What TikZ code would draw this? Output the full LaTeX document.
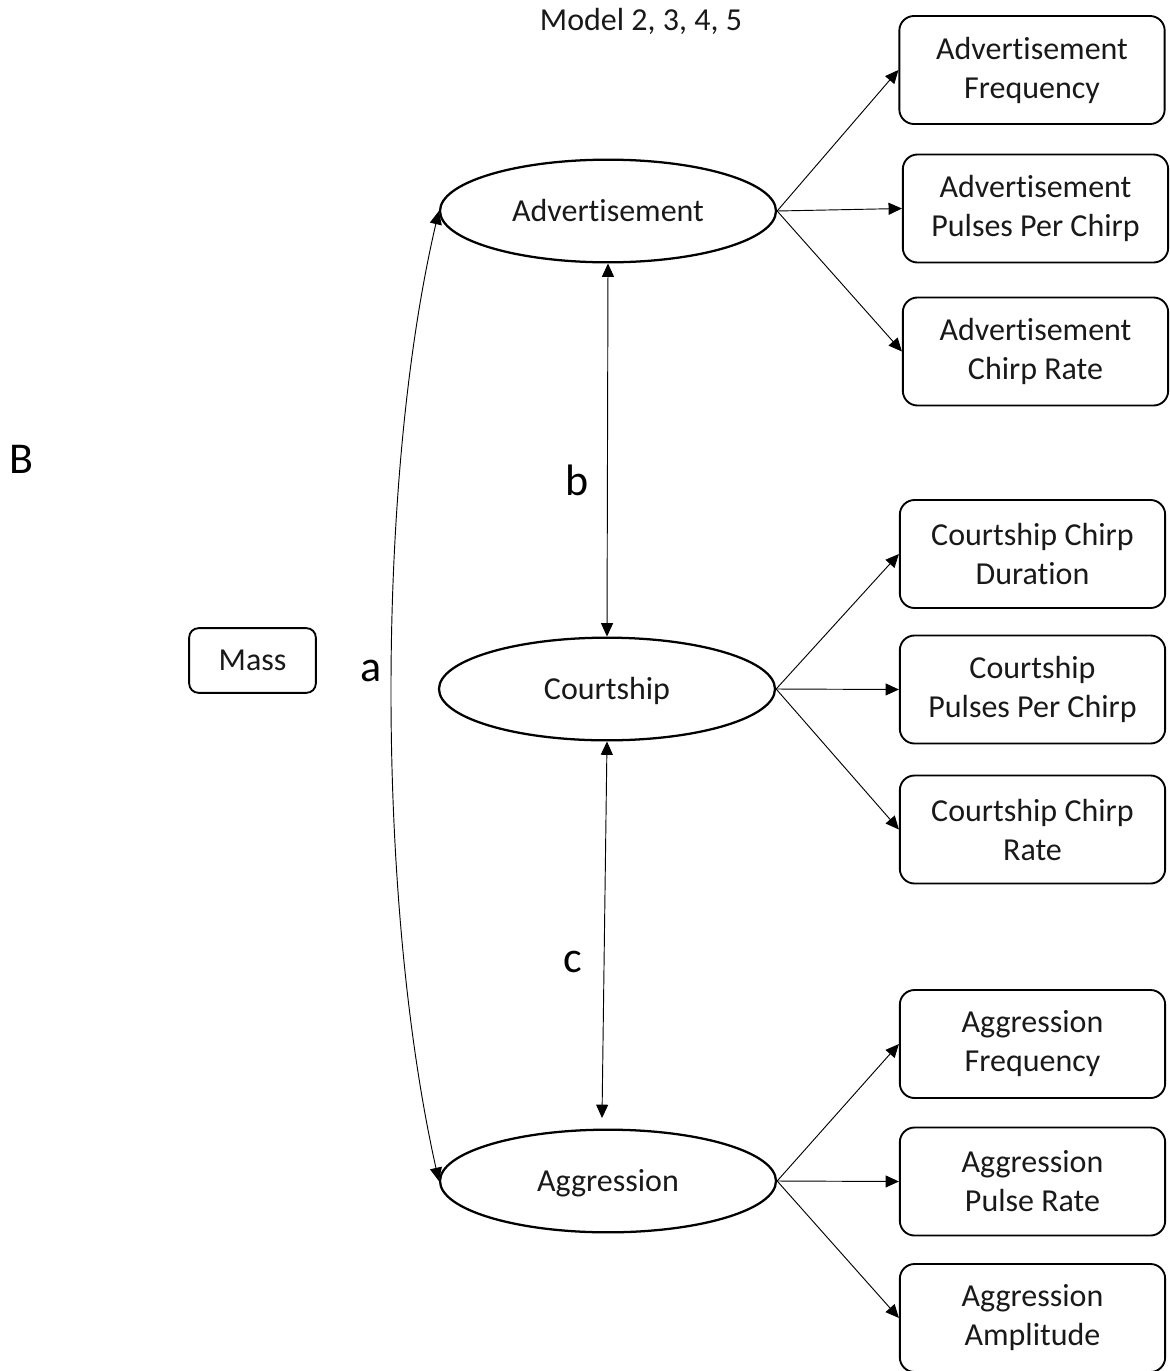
\documentclass[tikz,border=0pt]{standalone}
\usepackage{fontspec}
\setmainfont[Ligatures=NoCommon,RawFeature={-liga;-clig;-calt}]{Carlito}
\usetikzlibrary{arrows.meta,shapes.geometric}
\begin{document}
\begin{tikzpicture}[x=0.75pt,y=-0.75pt,
  every node/.style={font=\fontsize{24pt}{29.25pt}\selectfont, text=black!90},
  latent/.style={ellipse, draw, line width=1.7pt, minimum width=252pt, minimum height=77pt, inner sep=0pt, text depth=4pt, text height=19pt},
  obs/.style={draw, line width=1.4pt, rounded corners=11pt, minimum width=199pt, minimum height=81pt, align=center, inner sep=0pt},
  big/.style={font=\fontsize{33pt}{38pt}\selectfont, text=black},
  conn/.style={line width=0.7pt, -{Triangle[length=10pt,width=9pt]}},
  dconn/.style={line width=0.7pt, {Triangle[length=10pt,width=9pt]}-{Triangle[length=10pt,width=9pt]}}
]
\useasboundingbox (0,0) rectangle (1170,1371);

\node (title) at (641,21) {Model 2, 3, 4, 5};
\node[big] (B) at (21,459) {B};

\node[latent] (ad) at (608,211) {Advertisement};
\node[latent] (co) at (607,689) {Courtship};
\node[latent] (ag) at (608,1181) {Aggression};

\node[obs] (af) at (1032,70) {Advertisement\\Frequency};
\node[obs] (ap) at (1035.5,208.5) {Advertisement\\Pulses Per Chirp};
\node[obs] (ar) at (1035.5,351.5) {Advertisement\\Chirp Rate};

\node[obs] (cd) at (1032.5,554) {Courtship Chirp\\Duration};
\node[obs] (cp) at (1032.5,689.5) {Courtship\\Pulses Per Chirp};
\node[obs] (cr) at (1032.5,829.5) {Courtship Chirp\\Rate};

\node[obs] (gf) at (1032.5,1044) {Aggression\\Frequency};
\node[obs] (gp) at (1032.5,1181.5) {Aggression\\Pulse Rate};
\node[obs] (ga) at (1032.5,1318) {Aggression\\Amplitude};

\node[draw, line width=1.4pt, rounded corners=7pt, minimum width=95pt, minimum height=48.5pt, inner sep=0pt] (mass) at (252.5,660.5) {Mass};

\node[big] (la) at (371,671) {a};
\node[big] (lb) at (577,480) {b};
\node[big] (lc) at (573,962) {c};

\foreach \s/\t in {ad/af, ad/ap, ad/ar, co/cd, co/cp, co/cr, ag/gf, ag/gp, ag/ga}
  \draw[conn] (\s.east) -- (\t.west);

\draw[dconn] (ad.south) -- (co.north);
\coordinate (cend) at (602,1118);
\draw[dconn] (co.south) -- (cend);

\draw[dconn] (ag.west) .. controls (376,900) and (376,480) .. (ad.west);
\end{tikzpicture}
\end{document}
